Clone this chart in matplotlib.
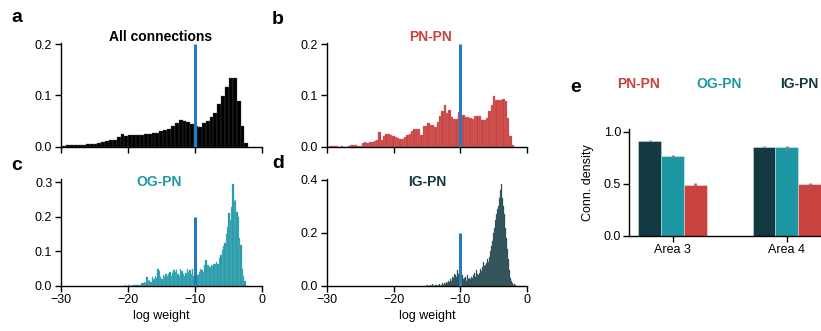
import numpy as np
import matplotlib
matplotlib.use("Agg")
import matplotlib.pyplot as plt
from matplotlib.colors import to_rgb

plt.rcParams['font.family'] = ['Liberation Sans', 'DejaVu Sans']
plt.rcParams['axes.linewidth'] = 1.0

# colours
pn_red = '#c8423f'
og_teal = '#1e97a5'
ig_dark = '#133a42'
line_blue = '#2a7bba'

# --- histogram data (bin start, bin width, heights) ---
a_start, a_width = -30.3, 0.5776
a_heights = [0.001, 0.002, 0.003, 0.003, 0.004, 0.004, 0.004, 0.005, 0.005, 0.006,
             0.007, 0.009, 0.011, 0.013, 0.014, 0.018, 0.024, 0.021, 0.022, 0.023,
             0.023, 0.022, 0.025, 0.025, 0.026, 0.027, 0.031, 0.032, 0.035, 0.041,
             0.047, 0.053, 0.051, 0.048, 0.045, 0.041, 0.039, 0.047, 0.051, 0.057,
             0.066, 0.084, 0.098, 0.117, 0.134, 0.134, 0.090, 0.040, 0.007]

b_start, b_width = -30.0, 0.35
b_heights = [0.0, 0.001, 0.001, 0.001, 0.001, 0.0, 0.001, 0.0, 0.0, 0.001,
             0.004, 0.004, 0.003, 0.002, 0.002, 0.008, 0.009, 0.008, 0.009, 0.010,
             0.012, 0.013, 0.028, 0.013, 0.020, 0.025, 0.025, 0.023, 0.021, 0.018,
             0.017, 0.016, 0.016, 0.018, 0.022, 0.025, 0.030, 0.034, 0.035, 0.034,
             0.023, 0.041, 0.041, 0.046, 0.043, 0.043, 0.038, 0.049, 0.059, 0.069,
             0.082, 0.066, 0.072, 0.058, 0.055, 0.055, 0.067, 0.053, 0.061, 0.058,
             0.057, 0.056, 0.054, 0.059, 0.059, 0.060, 0.053, 0.053, 0.056, 0.069,
             0.082, 0.099, 0.091, 0.092, 0.092, 0.093, 0.089, 0.056, 0.020, 0.003]

c_start, c_width = -20.4, 0.2
c_heights = [0.003, 0.0, 0.002, 0.003, 0.0, 0.003, 0.002, 0.004, 0.002, 0.003,
             0.004, 0.002, 0.010, 0.008, 0.012, 0.010, 0.025, 0.015, 0.018, 0.012,
             0.025, 0.020, 0.030, 0.022, 0.048, 0.044, 0.025, 0.020, 0.032, 0.025,
             0.035, 0.028, 0.034, 0.040, 0.030, 0.038, 0.045, 0.040, 0.045, 0.035,
             0.030, 0.050, 0.042, 0.035, 0.030, 0.038, 0.050, 0.040, 0.045, 0.035,
             0.050, 0.030, 0.045, 0.035, 0.032, 0.040, 0.050, 0.045, 0.040, 0.060,
             0.075, 0.062, 0.060, 0.055, 0.060, 0.058, 0.065, 0.063, 0.070, 0.065,
             0.080, 0.090, 0.105, 0.115, 0.125, 0.150, 0.170, 0.210, 0.190, 0.230,
             0.295, 0.245, 0.250, 0.215, 0.200, 0.140, 0.120, 0.050, 0.030, 0.015]

d_start, d_width = -15.0, 0.15
d_heights = [0.005, 0.0, 0.0, 0.004, 0.0, 0.006, 0.0, 0.0, 0.003, 0.005,
             0.0, 0.004, 0.008, 0.0, 0.005, 0.010, 0.004, 0.012, 0.006, 0.015,
             0.010, 0.020, 0.015, 0.028, 0.020, 0.035, 0.030, 0.045, 0.040, 0.035,
             0.060, 0.045, 0.030, 0.035, 0.020, 0.040, 0.025, 0.030, 0.035, 0.020,
             0.040, 0.028, 0.032, 0.025, 0.035, 0.030, 0.040, 0.050, 0.035, 0.060,
             0.045, 0.040, 0.050, 0.065, 0.055, 0.070, 0.090, 0.075, 0.080, 0.085,
             0.100, 0.090, 0.110, 0.130, 0.150, 0.170, 0.200, 0.220, 0.250, 0.270,
             0.290, 0.300, 0.330, 0.360, 0.385, 0.330, 0.300, 0.270, 0.220, 0.180,
             0.140, 0.100, 0.060, 0.030, 0.020, 0.010, 0.005, 0.008, 0.003, 0.0]

threshold = -10
threshold_height = 0.2

# --- panel e data ---
areas = ['Area 3', 'Area 4']
groups = ['IG-PN', 'OG-PN', 'PN-PN']
density = {'IG-PN': [0.912, 0.858],
           'OG-PN': [0.765, 0.850],
           'PN-PN': [0.490, 0.497]}
density_err = {'IG-PN': [0.004, 0.005],
               'OG-PN': [0.012, 0.015],
               'PN-PN': [0.015, 0.007]}
group_colors = {'IG-PN': ig_dark, 'OG-PN': og_teal, 'PN-PN': pn_red}

W, H = 821, 331
fig = plt.figure(figsize=(W / 100, H / 100), dpi=100)


def lighter(c, f):
    r = np.array(to_rgb(c))
    return tuple(r + (1 - r) * f)


def px_axes(left, top, right, bottom):
    return fig.add_axes([left / W, 1 - bottom / H, (right - left) / W, (bottom - top) / H])


def style(ax):
    for s in ['top', 'right']:
        ax.spines[s].set_visible(False)
    ax.tick_params(direction='out', length=4, width=1, labelsize=9, pad=2)


def hist_panel(ax, start, width, heights, color, ymax, yticks, show_x):
    heights = np.array(heights)
    lefts = start + width * np.arange(len(heights))
    ax.bar(lefts, heights, width=width, align='edge', color=color,
           edgecolor=lighter(color, 0.3), linewidth=0.25)
    ax.plot([threshold, threshold], [0, threshold_height], color=line_blue, lw=2.2,
            solid_capstyle='butt', zorder=5)
    ax.set_xlim(-30, 0)
    ax.set_ylim(0, ymax)
    ax.set_xticks([-30, -20, -10, 0])
    ax.set_yticks(yticks)
    ax.set_yticklabels(['%.1f' % t for t in yticks])
    if show_x:
        ax.set_xlabel('log weight', fontsize=9, labelpad=3)
    else:
        ax.set_xticklabels([])
    style(ax)


ax_a = px_axes(60.7, 42.7, 261.7, 146.7)
hist_panel(ax_a, a_start, a_width, a_heights, 'black', 0.203, [0, 0.1, 0.2], False)
ax_b = px_axes(326.7, 42.7, 527.3, 146.7)
hist_panel(ax_b, b_start, b_width, b_heights, pn_red, 0.203, [0, 0.1, 0.2], False)
ax_c = px_axes(60.7, 179.3, 261.7, 286)
hist_panel(ax_c, c_start, c_width, c_heights, og_teal, 0.309, [0, 0.1, 0.2, 0.3], True)
ax_d = px_axes(326.7, 179.3, 527.3, 286)
hist_panel(ax_d, d_start, d_width, d_heights, ig_dark, 0.402, [0, 0.2, 0.4], True)

# panel titles
fig.text(161 / W, 1 - 37 / H, 'All connections', color='black', fontsize=10,
         fontweight='bold', ha='center', va='center')
fig.text(430 / W, 1 - 37 / H, 'PN-PN', color=pn_red, fontsize=10,
         fontweight='bold', ha='center', va='center')
fig.text(159 / W, 1 - 182 / H, 'OG-PN', color=og_teal, fontsize=10,
         fontweight='bold', ha='center', va='center')
fig.text(427 / W, 1 - 182 / H, 'IG-PN', color=ig_dark, fontsize=10,
         fontweight='bold', ha='center', va='center')

# panel e
ax_e = px_axes(629.3, 129.3, 821, 236)
x = np.arange(len(areas))
bw = 0.2
for i, g in enumerate(groups):
    ax_e.bar(x + (i - 1) * bw, density[g], width=bw, color=group_colors[g],
             edgecolor=(1, 1, 1, 0.5), linewidth=0.5,
             yerr=density_err[g], error_kw=dict(ecolor='#808080', elinewidth=2, capsize=0))
ax_e.set_xlim(-0.38, 1.30)
ax_e.set_ylim(0, 1.023)
ax_e.set_xticks(x)
ax_e.set_xticklabels(areas)
ax_e.set_yticks([0, 0.5, 1.0])
ax_e.set_yticklabels(['0.0', '0.5', '1.0'])
ax_e.set_ylabel('Conn. density', fontsize=9, labelpad=7)
style(ax_e)

# legend text for e
for g, xc in zip(['PN-PN', 'OG-PN', 'IG-PN'], [638, 719, 799]):
    fig.text(xc / W, 1 - 84 / H, g, color=group_colors[g], fontsize=10,
             fontweight='bold', ha='center', va='center')

# panel letters
for letter, (xp, yp) in zip('abcde', [(17, 18), (278, 19), (17, 166), (278, 164), (576, 88)]):
    fig.text(xp / W, 1 - yp / H, letter, fontsize=14, fontweight='bold',
             ha='center', va='center')

fig.savefig('out.png', dpi=100)
